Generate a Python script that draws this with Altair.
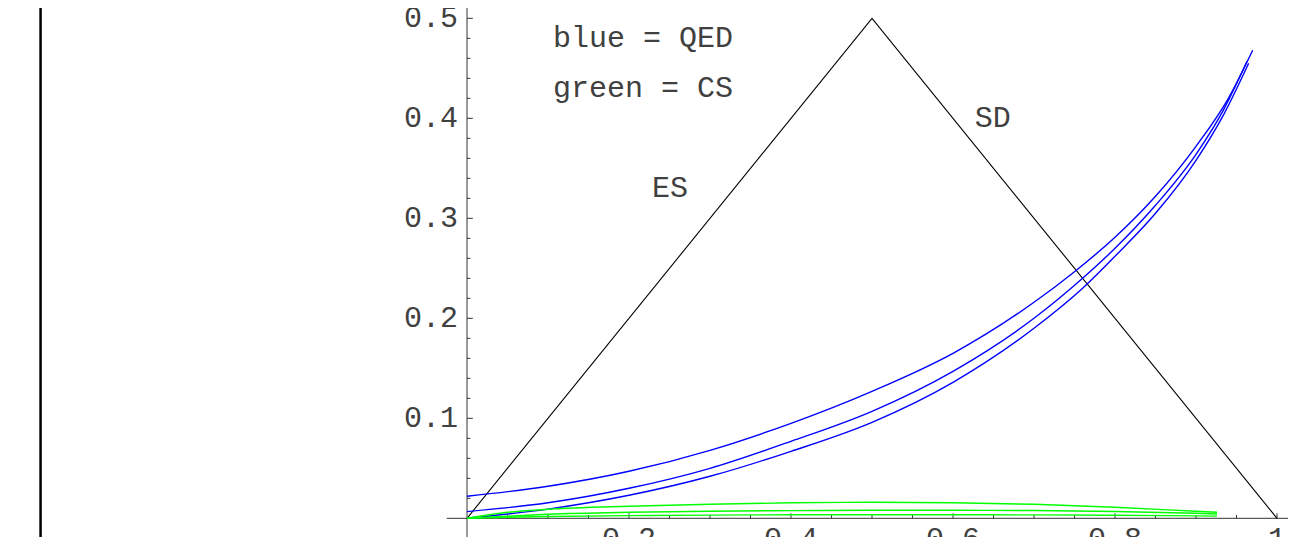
import altair as alt
import pandas as pd

# ---------------- data ----------------
tri_x = [0.0, 0.5, 1.0]
tri_y = [0.0, 0.5, 0.0]

qed_a_x = [0.0, 0.1, 0.2, 0.3, 0.4, 0.5, 0.6, 0.7, 0.75, 0.8, 0.85, 0.9, 0.94, 0.970]
qed_a_y = [0.022, 0.032, 0.047, 0.068, 0.095, 0.127, 0.165, 0.216, 0.2466, 0.281, 0.322, 0.372, 0.420, 0.468]

qed_b_x = [0.0, 0.1, 0.2, 0.3, 0.4, 0.5, 0.6, 0.7, 0.76, 0.8, 0.85, 0.9, 0.935, 0.963]
qed_b_y = [0.0067, 0.0155, 0.030, 0.050, 0.077, 0.107, 0.147, 0.200, 0.240, 0.270, 0.313, 0.364, 0.410, 0.457]

qed_c_x = [0.0, 0.1, 0.2, 0.3, 0.4, 0.5, 0.6, 0.7, 0.76, 0.8, 0.85, 0.9, 0.935, 0.965]
qed_c_y = [0.0, 0.0092, 0.023, 0.042, 0.067, 0.096, 0.136, 0.190, 0.230, 0.262, 0.305, 0.358, 0.405, 0.455]

cs_x = [0.0, 0.05, 0.1, 0.2, 0.3, 0.4, 0.5, 0.6, 0.7, 0.8, 0.9, 0.926]
cs_a_y = [0.0, 0.006, 0.009, 0.012, 0.014, 0.0155, 0.016, 0.0155, 0.014, 0.011, 0.007, 0.006]
cs_b_y = [0.0, 0.002, 0.004, 0.006, 0.007, 0.0077, 0.008, 0.008, 0.0078, 0.0068, 0.005, 0.0043]
cs_c_y = [0.0, 0.001, 0.0018, 0.0027, 0.0032, 0.0035, 0.0036, 0.0036, 0.0034, 0.003, 0.0024, 0.0022]

x_major = [0.2, 0.4, 0.6, 0.8, 1.0]
x_major_labels = ["0.2", "0.4", "0.6", "0.8", "1"]
x_minor = [0.05, 0.1, 0.15, 0.25, 0.3, 0.35, 0.45, 0.5, 0.55, 0.65, 0.7, 0.75, 0.85, 0.9, 0.95]
y_major = [0.1, 0.2, 0.3, 0.4, 0.5]
y_major_labels = ["0.1", "0.2", "0.3", "0.4", "0.5"]
y_minor = [0.02, 0.04, 0.06, 0.08, 0.12, 0.14, 0.16, 0.18, 0.22, 0.24, 0.26, 0.28,
           0.32, 0.34, 0.36, 0.38, 0.42, 0.44, 0.46, 0.48]

note_text = ["blue = QED", "green = CS"]
note_x = [0.106, 0.106]
note_y = [0.480, 0.430]

region_text = ["ES", "SD"]
region_x = [0.2506, 0.649]
region_y = [0.330, 0.400]

frame_x = [-0.5265]

x_axis_span = [-0.025, 1.03]
y_axis_span = [-0.03, 0.515]

# ---------------- layout / style ----------------
W, H = 1280, 529
X_DOMAIN = [-0.5667, 1.01358]
Y_DOMAIN = [-0.0187, 0.5103]
FONT = "Liberation Mono"
FS = 30
TXT = "#404040"
XT_MAJ, XT_MIN = 0.005, 0.0033      # x-axis tick lengths (y units)
YT_MAJ, YT_MIN = 0.0072, 0.0042     # y-axis tick lengths (x units)

xs = alt.Scale(domain=X_DOMAIN, nice=False, zero=False)
ys = alt.Scale(domain=Y_DOMAIN, nice=False, zero=False)
X = lambda f: alt.X(f, type="quantitative", scale=xs, axis=None)
Y = lambda f: alt.Y(f, type="quantitative", scale=ys, axis=None)

tri_df = pd.DataFrame({"x": tri_x, "y": tri_y})

rows = []
for name, xx, yy, col in [("qa", qed_a_x, qed_a_y, "QED"), ("qb", qed_b_x, qed_b_y, "QED"),
                          ("qc", qed_c_x, qed_c_y, "QED"), ("ca", cs_x, cs_a_y, "CS"),
                          ("cb", cs_x, cs_b_y, "CS"), ("cc", cs_x, cs_c_y, "CS")]:
    for a, b in zip(xx, yy):
        rows.append({"x": a, "y": b, "series": name, "kind": col})
curves_df = pd.DataFrame(rows)

xt_df = pd.DataFrame({"x": x_major + x_minor,
                      "y0": [0.0] * (len(x_major) + len(x_minor)),
                      "y1": [XT_MAJ] * len(x_major) + [XT_MIN] * len(x_minor)})
yt_df = pd.DataFrame({"y": y_major + y_minor,
                      "x0": [0.0] * (len(y_major) + len(y_minor)),
                      "x1": [YT_MAJ] * len(y_major) + [YT_MIN] * len(y_minor)})

xl_df = pd.DataFrame({"x": x_major, "y": [0.0] * len(x_major), "t": x_major_labels})
yl_df = pd.DataFrame({"x": [0.0] * len(y_major), "y": y_major, "t": y_major_labels})

axes_df_x = pd.DataFrame({"x": [x_axis_span[0]], "x2": [x_axis_span[1]], "y": [0.0]})
axes_df_y = pd.DataFrame({"y": [y_axis_span[0]], "y2": [y_axis_span[1]], "x": [0.0]})

notes_df = pd.DataFrame({"x": note_x, "y": note_y, "t": note_text})
regions_df = pd.DataFrame({"x": region_x, "y": region_y, "t": region_text})
frame_df = pd.DataFrame({"x": frame_x})

frame = alt.Chart(frame_df).mark_rule(color="black", strokeWidth=2.5).encode(x=X("x"))

xaxis = alt.Chart(axes_df_x).mark_rule(color="#333333", strokeWidth=1, clip=True).encode(
    x=X("x"), x2="x2", y=Y("y"))
yaxis = alt.Chart(axes_df_y).mark_rule(color="#333333", strokeWidth=1, clip=True).encode(
    y=Y("y"), y2="y2", x=X("x"))
xticks = alt.Chart(xt_df).mark_rule(color="#333333", strokeWidth=1).encode(
    x=X("x"), y=Y("y0"), y2="y1")
yticks = alt.Chart(yt_df).mark_rule(color="#333333", strokeWidth=1).encode(
    y=Y("y"), x=X("x0"), x2="x1")

xlabels = alt.Chart(xl_df).mark_text(font=FONT, fontSize=FS, color=TXT, align="center",
                                     baseline="alphabetic", dy=30).encode(
    x=X("x"), y=Y("y"), text="t:N")
ylabels = alt.Chart(yl_df).mark_text(font=FONT, fontSize=FS, color=TXT, align="right",
                                     baseline="middle", dx=-9).encode(
    x=X("x"), y=Y("y"), text="t:N")

triangle = alt.Chart(tri_df).mark_line(color="black", strokeWidth=1.1, clip=True).encode(
    x=X("x"), y=Y("y"))

curves = alt.Chart(curves_df).mark_line(strokeWidth=1.4, interpolate="monotone", clip=True).encode(
    x=X("x"), y=Y("y"), detail="series:N",
    color=alt.Color("kind:N", scale=alt.Scale(domain=["QED", "CS"], range=["#0000ff", "#00ff00"]),
                    legend=None))

notes = alt.Chart(notes_df).mark_text(font=FONT, fontSize=FS, color=TXT, align="left",
                                      baseline="middle").encode(x=X("x"), y=Y("y"), text="t:N")
regions = alt.Chart(regions_df).mark_text(font=FONT, fontSize=FS, color=TXT, align="center",
                                          baseline="middle").encode(x=X("x"), y=Y("y"), text="t:N")

chart = alt.layer(frame, xaxis, yaxis, xticks, yticks, triangle, curves, xlabels, ylabels,
                  notes, regions).properties(
    width=W, height=H, padding=0, background="white",
    autosize=alt.AutoSizeParams(type="none")
).configure_view(stroke=None)

chart.save("out.html", embed_options={"renderer": "svg", "actions": False})
